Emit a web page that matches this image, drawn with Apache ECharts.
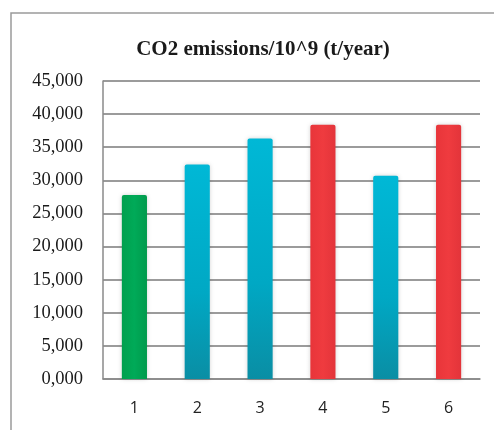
<!DOCTYPE html>
<html><head><meta charset="utf-8">
<script src="https://cdn.jsdelivr.net/npm/echarts@6/dist/echarts.min.js"></script>
<style>html,body{margin:0;padding:0;background:#fff}#c{width:494px;height:430px}</style>
</head><body><div id="c"></div>
<script>
const categories = ['1','2','3','4','5','6'];
const values = [27.8, 32.4, 36.3, 38.4, 30.7, 38.4];
const barColors = ['green','cyan','cyan','red','cyan','red'];
const yTicks = {min: 0, max: 45, interval: 5};
const titleText = 'CO2 emissions/10^9 (t/year)';

const palette = {
  green: new echarts.graphic.LinearGradient(0,0,1,0,[{offset:0,color:'#00a04e'},{offset:0.5,color:'#00aa58'},{offset:1,color:'#009a4c'}]),
  cyan: new echarts.graphic.LinearGradient(0,0,0,1,[{offset:0,color:'#00b8d6'},{offset:0.6,color:'#00a8c4'},{offset:1,color:'#0a8ea4'}]),
  red: new echarts.graphic.LinearGradient(0,0,1,0,[{offset:0,color:'#e8353a'},{offset:0.5,color:'#ef3b3f'},{offset:1,color:'#e3343a'}])
};

const chart = echarts.init(document.getElementById('c'), null, {renderer:'canvas'});
chart.setOption({
  animation:false,
  backgroundColor:'#fff',
  title:{text:titleText,left:258,top:34,textAlign:'center',
    textStyle:{fontFamily:'Liberation Serif',fontWeight:'bold',fontSize:21,color:'#1a1a1a'}},
  graphic:[{type:'rect',shape:{x:11,y:13,width:520,height:480},
    style:{fill:'none',stroke:'#9a9a9a',lineWidth:1.5},silent:true,z:-1}],
  grid:{left:103,right:14,top:81,bottom:51,containLabel:false},
  xAxis:{type:'category',data:categories,
    axisLine:{show:true,lineStyle:{color:'#8a8a8a',width:1.5}},
    axisTick:{show:false},
    axisLabel:{margin:21,fontFamily:'Open Sans',fontSize:16,color:'#222'}},
  yAxis:{type:'value',min:yTicks.min,max:yTicks.max,interval:yTicks.interval,
    axisLine:{show:true,lineStyle:{color:'#8a8a8a',width:1.5}},
    axisTick:{show:false},
    splitLine:{lineStyle:{color:'#7a7a7a',width:1.5}},
    axisLabel:{margin:20,fontFamily:'Liberation Serif',fontSize:18.5,color:'#1a1a1a',
      formatter:v=>v.toFixed(3).replace('.',',')}},
  series:[{type:'bar',barWidth:'40%',
    data:values.map((v,i)=>({value:v,itemStyle:{color:palette[barColors[i]],borderRadius:[2,2,0,0],
      shadowColor:'rgba(0,0,0,0.18)',shadowBlur:4,shadowOffsetX:0}}))}]
});
</script></body></html>
